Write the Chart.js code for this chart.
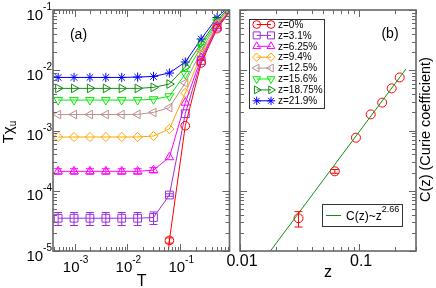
<!DOCTYPE html>
<html lang="en">
<head>
<meta charset="UTF-8">
<title>Curie coefficient</title>
<script src="https://cdn.jsdelivr.net/npm/chart.js@4/dist/chart.umd.min.js"></script>
<style>
  body { margin: 0; background: #fff; }
  #wrap { position: relative; width: 436px; height: 288px; }
  canvas { position: absolute; top: 0; }
  #ca { left: 0; }
  #cb { left: 216px; }
</style>
</head>
<body>
<div id="wrap">
  <canvas id="ca" width="236" height="288"></canvas>
  <canvas id="cb" width="220" height="288"></canvas>
</div>
<script>
// panel (a): T chi_u vs T for each doping z
const temps = [1/2048, 1/1024, 1/512, 1/256, 1/128, 1/64, 1/32, 1/16, 1/8, 1/4, 1/2, 1];
const z0    = [null, null, null, null, null, null, 1.8e-8, 1.5e-5, 1.2e-3, 0.0132, 0.049, 0.11];
const z31   = [3.5e-5, 3.5e-5, 3.5e-5, 3.5e-5, 3.5e-5, 3.5e-5, 3.6e-5, 8.5e-5, 1.9e-3, 0.0145, 0.052, 0.11];
const z625  = [2.1e-4, 2.1e-4, 2.1e-4, 2.1e-4, 2.1e-4, 2.1e-4, 2.2e-4, 3.6e-4, 2.9e-3, 0.016, 0.054, 0.112];
const z94   = [7.8e-4, 7.8e-4, 7.8e-4, 7.8e-4, 7.8e-4, 7.8e-4, 8.1e-4, 1.06e-3, 4.2e-3, 0.018, 0.057, 0.115];
const z125  = [1.84e-3, 1.84e-3, 1.84e-3, 1.84e-3, 1.84e-3, 1.85e-3, 2.0e-3, 2.4e-3, 6.2e-3, 0.021, 0.061, 0.118];
const z156  = [3.2e-3, 3.2e-3, 3.2e-3, 3.2e-3, 3.2e-3, 3.2e-3, 3.3e-3, 3.7e-3, 8.7e-3, 0.0244, 0.064, 0.12];
const z1875 = [5.0e-3, 5.0e-3, 5.0e-3, 5.0e-3, 5.0e-3, 5.0e-3, 5.2e-3, 5.9e-3, 0.0113, 0.028, 0.068, 0.125];
const z219  = [7.6e-3, 7.6e-3, 7.6e-3, 7.6e-3, 7.6e-3, 7.7e-3, 7.9e-3, 9.0e-3, 0.0137, 0.033, 0.075, 0.13];
const err0   = [null, null, null, null, null, null, null, 0.15e-5, null, null, null, null];
const err31  = [0.85e-5, 0.85e-5, 0.85e-5, 0.85e-5, 0.85e-5, 0.85e-5, 0.85e-5, 0.4e-5, null, null, null, null];
const err625 = [2.2e-5, 2.2e-5, 2.2e-5, 2.2e-5, 2.2e-5, 2.2e-5, 2.2e-5, null, null, null, null, null];
const seriesNames = ['z=0%', 'z=3.1%', 'z=6.25%', 'z=9.4%', 'z=12.5%', 'z=15.6%', 'z=18.75%', 'z=21.9%'];
const seriesVals = [z0, z31, z625, z94, z125, z156, z1875, z219];
const seriesErr = [err0, err31, err625, null, null, null, null, null];

// panel (b): Curie coefficient vs z, with power-law fit
const zConc = [0.031, 0.0625, 0.094, 0.125, 0.156, 0.1875, 0.219];
const curie = [3.5e-5, 2.1e-4, 7.6e-4, 1.85e-3, 2.9e-3, 5.0e-3, 7.6e-3];
const curieErr = [1.0e-5, 1.5e-5, null, null, null, null, null];
const fitZ = [0.018, 0.247];
const fitC = [1.0e-5, 1.05e-2];

// tick labels
const tExps = [-3, -2, -1];
const yExps = [-5, -4, -3, -2, -1];
const zTicks = [0.01, 0.1];
const zTickText = ['0.01', '0.1'];

// styles
const colors = ['#ff0000', '#9b30d8', '#ff00ff', '#ffa500', '#bc8f8f', '#00ee00', '#109010', '#0000ff'];
const shapes = ['circle', 'rect', 'triangle', 'rectRot', 'triangle', 'triangle', 'triangle', 'star'];
const rots = [0, 0, 0, 0, -90, 180, 90, 0];
const radii = [4.3, 5.5, 5, 4.6, 5, 5, 5, 4.6];
const FONT = '"Liberation Sans", Arial, sans-serif';
const frameColor = '#666';
const OX = 216; // left offset of the second canvas

function logTicks(ctx, scale, area, horizontal) {
  const lo = Math.floor(Math.log10(scale.min)), hi = Math.ceil(Math.log10(scale.max));
  ctx.beginPath();
  for (let k = lo; k <= hi; k++) {
    for (let m = 1; m <= 9; m++) {
      const v = m * Math.pow(10, k);
      if (v < scale.min * 0.999 || v > scale.max * 1.001) continue;
      const p = Math.round(scale.getPixelForValue(v)) + 0.5;
      const len = m === 1 ? 7 : 4;
      if (horizontal) {
        ctx.moveTo(p, area.bottom); ctx.lineTo(p, area.bottom - len);
        ctx.moveTo(p, area.top); ctx.lineTo(p, area.top + len);
      } else {
        ctx.moveTo(area.left, p); ctx.lineTo(area.left + len, p);
        ctx.moveTo(area.right, p); ctx.lineTo(area.right - len, p);
      }
    }
  }
  ctx.stroke();
}

function drawFrame(chart) {
  const ctx = chart.ctx, a = chart.chartArea;
  ctx.save();
  ctx.strokeStyle = frameColor;
  ctx.lineWidth = 1;
  logTicks(ctx, chart.scales.x, a, true);
  logTicks(ctx, chart.scales.y, a, false);
  ctx.lineWidth = 1.6;
  ctx.strokeRect(a.left, a.top, a.right - a.left, a.bottom - a.top);
  ctx.restore();
}

function powLabel(ctx, exp, x, baseY, alignRight) {
  ctx.font = '15px ' + FONT;
  const wb = ctx.measureText('10').width;
  ctx.font = '10px ' + FONT;
  const ws = ctx.measureText(String(exp)).width;
  const start = alignRight ? x - wb - ws : x - (wb + ws) / 2;
  ctx.textAlign = 'left';
  ctx.textBaseline = 'alphabetic';
  ctx.font = '15px ' + FONT;
  ctx.fillText('10', start, baseY);
  ctx.font = '10px ' + FONT;
  ctx.fillText(String(exp), start + wb, baseY - 9.5);
}

const errorBars = {
  id: 'errorBars',
  afterDatasetsDraw(chart) {
    const ctx = chart.ctx, a = chart.chartArea;
    ctx.save();
    ctx.beginPath();
    ctx.rect(a.left, a.top, a.right - a.left, a.bottom - a.top);
    ctx.clip();
    chart.data.datasets.forEach(ds => {
      if (!ds.errors) return;
      ctx.strokeStyle = ds.borderColor;
      ctx.lineWidth = 1;
      ds.data.forEach((d, j) => {
        const e = ds.errors[j];
        if (!e || d.y == null) return;
        const x = chart.scales.x.getPixelForValue(d.x);
        const y1 = chart.scales.y.getPixelForValue(d.y + e);
        const y2 = chart.scales.y.getPixelForValue(d.y - e);
        ctx.beginPath();
        ctx.moveTo(x, y1); ctx.lineTo(x, y2);
        ctx.moveTo(x - 4, y1); ctx.lineTo(x + 4, y1);
        ctx.moveTo(x - 4, y2); ctx.lineTo(x + 4, y2);
        ctx.stroke();
      });
    });
    ctx.restore();
  }
};

const decorA = {
  id: 'decorA',
  afterDraw(chart) {
    drawFrame(chart);
    const ctx = chart.ctx, a = chart.chartArea;
    ctx.save();
    ctx.fillStyle = '#000';
    tExps.forEach(e => powLabel(ctx, e, chart.scales.x.getPixelForValue(Math.pow(10, e)) + 1, 272, false));
    yExps.forEach(e => powLabel(ctx, e, 52, chart.scales.y.getPixelForValue(Math.pow(10, e)) + 9.5, true));
    ctx.font = '16px ' + FONT;
    ctx.textAlign = 'center';
    ctx.fillText('T', (a.left + a.right) / 2 + 0.5, 286);
    ctx.font = '14px ' + FONT;
    ctx.fillText('(a)', 78.5, 39);
    // rotated y title  T chi_u
    ctx.translate(13, 132);
    ctx.rotate(-Math.PI / 2);
    ctx.font = '15px ' + FONT;
    const w1 = ctx.measureText('T\u03c7').width;
    ctx.font = '10px ' + FONT;
    const w2 = ctx.measureText('u').width;
    const s = -(w1 + w2) / 2;
    ctx.textAlign = 'left';
    ctx.font = '15px ' + FONT;
    ctx.fillText('T\u03c7', s, 0);
    ctx.font = '10px ' + FONT;
    ctx.fillText('u', s + w1, 3);
    ctx.restore();
  }
};

const decorB = {
  id: 'decorB',
  afterDraw(chart) {
    drawFrame(chart);
    const ctx = chart.ctx, a = chart.chartArea;
    const H = Chart.helpers;
    ctx.save();
    ctx.fillStyle = '#000';
    ctx.textAlign = 'center';
    ctx.font = '16px ' + FONT;
    zTicks.forEach((v, i) => ctx.fillText(zTickText[i], chart.scales.x.getPixelForValue(v) + 2, 266));
    ctx.fillText('z', 328 - OX, 277);
    ctx.font = '14px ' + FONT;
    ctx.fillText('(b)', 390 - OX, 38);

    // legend for panel (a) series
    const lx = 249.5 - OX;
    ctx.fillStyle = '#fff';
    ctx.fillRect(lx, 19.5, 75, 89);
    ctx.strokeStyle = '#333';
    ctx.lineWidth = 1;
    ctx.strokeRect(lx, 19.5, 75, 89);
    seriesNames.forEach((name, i) => {
      const y = 24.5 + i * 10.9;
      const m1 = 256.7 - OX, m2 = 271 - OX;
      ctx.strokeStyle = colors[i];
      ctx.fillStyle = 'rgba(0,0,0,0)';
      ctx.beginPath();
      ctx.moveTo(m1, y); ctx.lineTo(m2, y);
      ctx.stroke();
      const opt = {pointStyle: shapes[i], rotation: rots[i], radius: radii[i] * 0.9, borderWidth: 1};
      if (H && H.drawPoint) {
        H.drawPoint(ctx, opt, m1, y);
        H.drawPoint(ctx, opt, m2, y);
      }
      ctx.fillStyle = '#000';
      ctx.font = '10px ' + FONT;
      ctx.textAlign = 'left';
      ctx.textBaseline = 'middle';
      ctx.fillText(name, 278 - OX, y + 0.5);
    });

    // legend for the fit
    const fx = 322.5 - OX;
    ctx.textBaseline = 'alphabetic';
    ctx.fillStyle = '#fff';
    ctx.fillRect(fx, 204.5, 80, 22);
    ctx.strokeStyle = '#333';
    ctx.strokeRect(fx, 204.5, 80, 22);
    ctx.strokeStyle = '#109010';
    ctx.beginPath();
    ctx.moveTo(fx + 3.5, 215.5); ctx.lineTo(fx + 18.5, 215.5);
    ctx.stroke();
    ctx.fillStyle = '#000';
    ctx.font = '12px ' + FONT;
    ctx.fillText('C(z)~z', fx + 23.5, 220);
    const wt = ctx.measureText('C(z)~z').width;
    ctx.font = '9px ' + FONT;
    ctx.fillText('2.66', fx + 23.5 + wt, 212);

    // right y title
    ctx.translate(429.6 - OX, (a.top + a.bottom) / 2 - 1);
    ctx.rotate(-Math.PI / 2);
    ctx.textAlign = 'center';
    ctx.font = '14.5px ' + FONT;
    ctx.fillText('C(z) (Curie coefficient)', 0, 0);
    ctx.restore();
  }
};

function hiddenAxis(min, max, fit) {
  return {
    type: 'logarithmic', min: min, max: max,
    grid: {display: false}, border: {display: false}, ticks: {display: false},
    afterFit: fit
  };
}

const dsA = seriesVals.map((vals, i) => ({
  label: seriesNames[i],
  data: temps.map((t, j) => ({x: t, y: vals[j]})),
  errors: seriesErr[i],
  borderColor: colors[i],
  backgroundColor: 'rgba(0,0,0,0)',
  borderWidth: 1,
  pointStyle: shapes[i],
  pointRotation: rots[i],
  pointRadius: radii[i],
  pointBorderWidth: 1,
  pointBackgroundColor: 'rgba(0,0,0,0)',
  pointBorderColor: colors[i],
  tension: 0,
  spanGaps: false,
  clip: 0
}));

new Chart(document.getElementById('ca'), {
  type: 'line',
  data: {datasets: dsA},
  options: {
    responsive: false,
    animation: false,
    events: [],
    layout: {padding: {top: 10, right: 6, left: 0, bottom: 0}},
    plugins: {legend: {display: false}, tooltip: {enabled: false}},
    scales: {
      x: hiddenAxis(3.9e-4, 0.86, s => { s.height = 37; }),
      y: hiddenAxis(1e-5, 0.1, s => { s.width = 53; })
    }
  },
  plugins: [errorBars, decorA]
});

new Chart(document.getElementById('cb'), {
  type: 'line',
  data: {
    datasets: [
      {
        label: 'C(z)~z^2.66',
        data: fitZ.map((z, j) => ({x: z, y: fitC[j]})),
        borderColor: '#109010',
        borderWidth: 1,
        pointRadius: 0,
        clip: 0
      },
      {
        label: 'C(z)',
        data: zConc.map((z, j) => ({x: z, y: curie[j]})),
        errors: curieErr,
        borderColor: '#ff0000',
        showLine: false,
        pointStyle: 'circle',
        pointRadius: 4.5,
        pointBorderWidth: 1,
        pointBorderColor: '#ff0000',
        pointBackgroundColor: 'rgba(0,0,0,0)',
        clip: 0
      }
    ]
  },
  options: {
    responsive: false,
    animation: false,
    events: [],
    layout: {padding: {top: 10, right: 20, left: 0, bottom: 0}},
    plugins: {legend: {display: false}, tooltip: {enabled: false}},
    scales: {
      x: hiddenAxis(0.01, 0.3, s => { s.height = 37; }),
      y: hiddenAxis(1e-5, 0.1, s => { s.width = 24; })
    }
  },
  plugins: [errorBars, decorB]
});
</script>
</body>
</html>
